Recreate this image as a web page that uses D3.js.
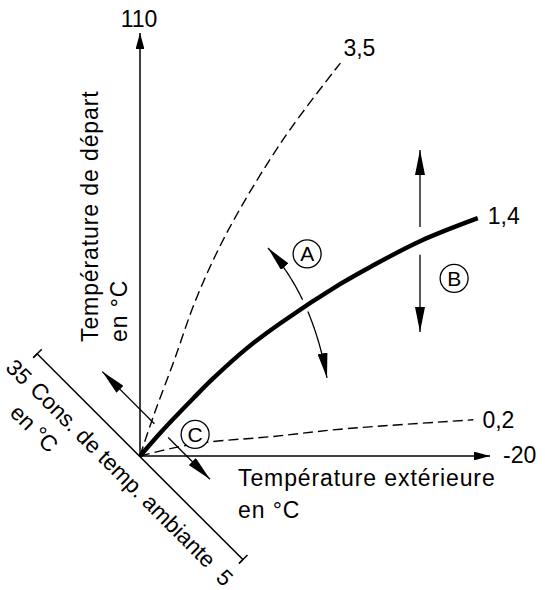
<!DOCTYPE html>
<html>
<head>
<meta charset="utf-8">
<script src="https://cdn.jsdelivr.net/npm/d3@7"></script>
<style>
  body { margin: 0; background: #fff; }
  text { font-family: "Liberation Sans", Arial, Helvetica, sans-serif; fill: #000; }
</style>
</head>
<body>
<script>
// heating curves: outside temperature (°C) and flow temperature (°C)
var curveNames = ["3,5", "1,4", "0,2"];
var outside35 = [20, 18.5, 16.2, 13.5, 9.9, 3.7, -2.9];
var flow35    = [20, 28.3, 39.8, 53.8, 68.1, 87.2, 103.6];
var outside14 = [20, 17.4, 13.9, 11.7, 7.8, 4.0, -2.9, -6.3, -12.0, -18.6];
var flow14    = [20, 25.5, 32.3, 36.4, 42.9, 48.2, 56.6, 60.2, 65.7, 70.6];
var outside02 = [20, 15.7, 12.0, 5.1, -2.9, -18.1];
var flow02    = [20, 21.9, 23.0, 24.1, 25.7, 27.7];

// axis end values
var outsideRange = [20, -20];
var flowRange = [20, 110];
var roomRange = [35, 5];

// annotation marks, in chart units
var markLetters = ["A", "B", "C"];
var markOutside = [0.9, -15.9, 13.7];
var markFlow = [63.0, 57.8, 24.6];
var arcA = [[5.37, 64.26], [0.29, 53.83], [-1.37, 36.6]]; // quadratic: start, control, end
var arrowB = {outside: -12, upper: [68.7, 85.1], lower: [62.8, 46.4]};
var roomArrows = [[21.3, 28.9], [19.3, 13.2]];

var width = 545, height = 590;

var svg = d3.select("body").append("svg")
  .attr("width", width)
  .attr("height", height);

var x = d3.scaleLinear().domain(outsideRange).range([140, 490]);
var y = d3.scaleLinear().domain(flowRange).range([456, 33]);
var z = d3.scaleLinear().domain(roomRange).range([-145.5, 145.5]);

// arrow heads
var defs = svg.append("defs");
function addHead(id, len, half) {
  defs.append("marker")
    .attr("id", id)
    .attr("viewBox", "0 " + (-half) + " " + len + " " + (2 * half))
    .attr("refX", len)
    .attr("refY", 0)
    .attr("markerUnits", "userSpaceOnUse")
    .attr("markerWidth", len)
    .attr("markerHeight", 2 * half)
    .attr("orient", "auto")
    .append("path")
    .attr("d", "M0," + (-half) + "L" + len + ",0L0," + half + "Z")
    .attr("fill", "#000");
}
addHead("axisHead", 16, 4.4);
addHead("markHead", 25, 5);

// main axes
svg.append("line")
  .attr("x1", x(20)).attr("y1", y(20))
  .attr("x2", x(20)).attr("y2", y(110))
  .attr("stroke", "#000").attr("stroke-width", 1.5)
  .attr("marker-end", "url(#axisHead)");
svg.append("line")
  .attr("x1", x(20)).attr("y1", y(20))
  .attr("x2", x(-20)).attr("y2", y(20))
  .attr("stroke", "#000").attr("stroke-width", 1.5)
  .attr("marker-end", "url(#axisHead)");

svg.append("text")
  .attr("x", x(20) - 1).attr("y", 27)
  .attr("text-anchor", "middle")
  .style("font-size", "23px")
  .text("110");
svg.append("text")
  .attr("x", x(-20) + 13).attr("y", y(20) + 7)
  .style("font-size", "23px")
  .text("-20");

// axis titles
var yTitle = svg.append("text")
  .attr("transform", "translate(98,342) rotate(-90)")
  .style("font-size", "23px")
  .style("letter-spacing", "0.9px");
yTitle.append("tspan").attr("x", 0).attr("y", 0).text("Température de départ");
yTitle.append("tspan").attr("x", 0).attr("y", 29).text("en °C");

var xTitle = svg.append("text")
  .style("font-size", "23px")
  .style("letter-spacing", "0.9px");
xTitle.append("tspan").attr("x", 238).attr("y", 486).text("Température extérieure");
xTitle.append("tspan").attr("x", 238).attr("y", 518).text("en °C");

// room set temperature axis, 45 degrees through the origin
var room = svg.append("g")
  .attr("transform", "translate(" + x(20) + "," + y(20) + ") rotate(45)");
room.call(d3.axisBottom(z).tickValues(roomRange).tickSize(6).tickPadding(12).tickFormat(d3.format("d")));
room.attr("font-family", null).attr("font-size", null);
room.select(".domain").attr("stroke-width", 1.5);
room.selectAll(".tick line").attr("y1", -6).attr("stroke-width", 1.5);
room.selectAll(".tick text").style("font-size", "22.5px");

var roomTitle = room.append("text")
  .attr("text-anchor", "start")
  .style("font-size", "22.5px");
roomTitle.append("tspan").attr("x", z(35) + 21).attr("y", 33).text("Cons. de temp. ambiante");
roomTitle.append("tspan").attr("x", z(35) + 23).attr("y", 63).text("en °C");

room.selectAll(".roomArrow")
  .data(roomArrows)
  .enter().append("line")
  .attr("class", "roomArrow")
  .attr("x1", function(d) { return z(d[0]); })
  .attr("x2", function(d) { return z(d[1]); })
  .attr("y1", -33).attr("y2", -33)
  .attr("stroke", "#000").attr("stroke-width", 1.3)
  .attr("marker-end", "url(#markHead)");

// heating curves
var curves = [
  {name: curveNames[0], pts: d3.zip(outside35, flow35), dash: "10,5", w: 1.4, dx: 3, dy: -7},
  {name: curveNames[2], pts: d3.zip(outside02, flow02), dash: "10,5", w: 1.4, dx: 9, dy: 8},
  {name: curveNames[1], pts: d3.zip(outside14, flow14), dash: null, w: 4.4, dx: 10, dy: 6}
];

var line = d3.line()
  .x(function(d) { return x(d[0]); })
  .y(function(d) { return y(d[1]); })
  .curve(d3.curveCatmullRom.alpha(0.5));

svg.selectAll(".curve")
  .data(curves)
  .enter().append("path")
  .attr("class", "curve")
  .attr("d", function(d) { return line(d.pts); })
  .attr("fill", "none")
  .attr("stroke", "#000")
  .attr("stroke-width", function(d) { return d.w; })
  .attr("stroke-dasharray", function(d) { return d.dash; })
  .attr("stroke-linecap", "butt");

svg.selectAll(".curveLabel")
  .data(curves)
  .enter().append("text")
  .attr("class", "curveLabel")
  .attr("x", function(d) { return x(d.pts[d.pts.length - 1][0]) + d.dx; })
  .attr("y", function(d) { return y(d.pts[d.pts.length - 1][1]) + d.dy; })
  .style("font-size", "23px")
  .text(function(d) { return d.name; });

// arrow A: curved, split where it crosses the thick curve
function quad(t) {
  var a = (1 - t) * (1 - t), b = 2 * t * (1 - t), c = t * t;
  return [a * arcA[0][0] + b * arcA[1][0] + c * arcA[2][0],
          a * arcA[0][1] + b * arcA[1][1] + c * arcA[2][1]];
}
var arcLine = d3.line()
  .x(function(d) { return x(d[0]); })
  .y(function(d) { return y(d[1]); });
[[0.46, 0], [0.55, 1]].forEach(function(seg) {
  var ts = d3.range(0, 31).map(function(i) { return seg[0] + (seg[1] - seg[0]) * i / 30; });
  svg.append("path")
    .attr("d", arcLine(ts.map(quad)))
    .attr("fill", "none")
    .attr("stroke", "#000")
    .attr("stroke-width", 1.3)
    .attr("marker-end", "url(#markHead)");
});

// arrow B: vertical, split around the thick curve
[arrowB.upper, arrowB.lower].forEach(function(seg) {
  svg.append("line")
    .attr("x1", x(arrowB.outside)).attr("x2", x(arrowB.outside))
    .attr("y1", y(seg[0])).attr("y2", y(seg[1]))
    .attr("stroke", "#000").attr("stroke-width", 1.3)
    .attr("marker-end", "url(#markHead)");
});

// circled letters
var marks = svg.selectAll(".mark")
  .data(markLetters)
  .enter().append("g")
  .attr("class", "mark")
  .attr("transform", function(d, i) { return "translate(" + x(markOutside[i]) + "," + y(markFlow[i]) + ")"; });
marks.append("circle")
  .attr("r", 14)
  .attr("fill", "#fff")
  .attr("stroke", "#000")
  .attr("stroke-width", 1.3);
marks.append("text")
  .attr("text-anchor", "middle")
  .attr("y", 7.5)
  .style("font-size", "21px")
  .text(function(d) { return d; });
</script>
</body>
</html>
